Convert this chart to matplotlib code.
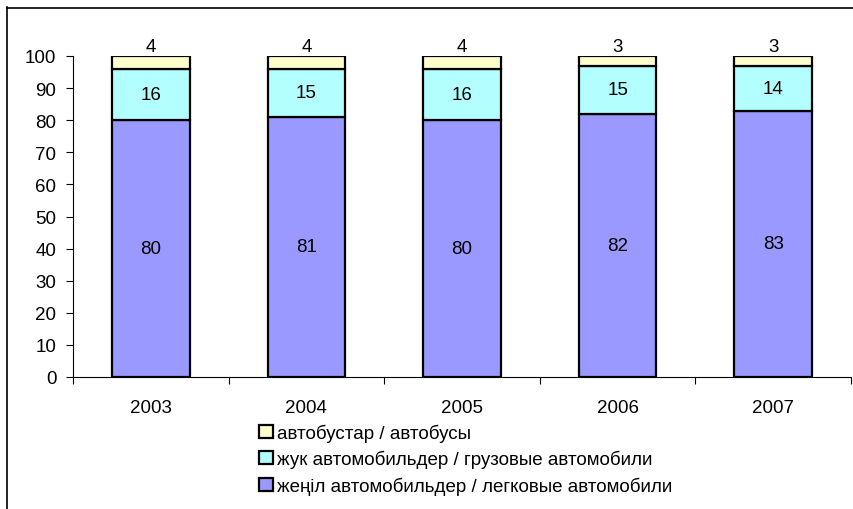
import numpy as np
import matplotlib.pyplot as plt
from matplotlib.lines import Line2D

years = ['2003', '2004', '2005', '2006', '2007']
cars = [80, 81, 80, 82, 83]
trucks = [16, 15, 16, 15, 14]
buses = [4, 4, 4, 3, 3]

label_cars = 'жеңіл автомобильдер / легковые автомобили'
label_trucks = 'жук автомобильдер / грузовые автомобили'
label_buses = 'автобустар / автобусы'

plt.rcParams['font.family'] = ['Liberation Sans', 'DejaVu Sans']
plt.rcParams['font.size'] = 13.5

fig = plt.figure(figsize=(8.54, 5.1), dpi=100)
ax = fig.add_axes([73 / 854, 1 - 378 / 510, 778 / 854, 321 / 510])

x = np.arange(len(years))
w = 0.5
edge = dict(edgecolor='black', linewidth=1.6)
b1 = ax.bar(x, cars, w, color='#9999FF', label=label_cars, **edge)
b2 = ax.bar(x, trucks, w, bottom=cars, color='#B3FFFF', label=label_trucks, **edge)
bottom3 = np.array(cars) + np.array(trucks)
b3 = ax.bar(x, buses, w, bottom=bottom3, color='#FFFFCC', label=label_buses, **edge)

for i in range(len(years)):
    ax.text(x[i], cars[i] / 2, str(cars[i]), ha='center', va='center')
    ax.text(x[i], cars[i] + trucks[i] / 2, str(trucks[i]), ha='center', va='center')
    ax.annotate(str(buses[i]), (x[i], bottom3[i] + buses[i]), xytext=(0, 1),
                textcoords='offset points', ha='center', va='bottom')

ax.set_xlim(-0.5, len(years) - 0.5)
ax.set_ylim(0, 100)
ax.set_yticks(range(0, 101, 10))
ax.set_xticks(x)
ax.set_xticklabels(years)
ax.set_xticks(np.arange(-0.5, len(years)), minor=True)
ax.tick_params(axis='x', which='major', length=0, pad=16)
ax.tick_params(axis='x', which='minor', length=5, direction='out', width=0.8)
ax.tick_params(axis='y', length=5, direction='out', width=0.8, pad=7)
ax.spines['top'].set_visible(False)
ax.spines['right'].set_visible(False)
for s in ['left', 'bottom']:
    ax.spines[s].set_linewidth(0.8)

handles = [b3, b2, b1]
fig.legend(handles, [label_buses, label_trucks, label_cars],
           loc='upper left', bbox_to_anchor=(250 / 854, 1 - 415 / 510),
           frameon=False, handlelength=0.7, handleheight=0.7,
           handletextpad=0.25, labelspacing=0.45, borderpad=0)

# outer chart frame (only top and left edges visible)
fig.add_artist(Line2D([7.5 / 854, 7.5 / 854], [0, 1 - 8 / 510], color='black', lw=1.2,
                      transform=fig.transFigure))
fig.add_artist(Line2D([7 / 854, 1], [1 - 8.5 / 510, 1 - 8.5 / 510], color='black', lw=1.2,
                      transform=fig.transFigure))

fig.savefig('out.png', dpi=100)
